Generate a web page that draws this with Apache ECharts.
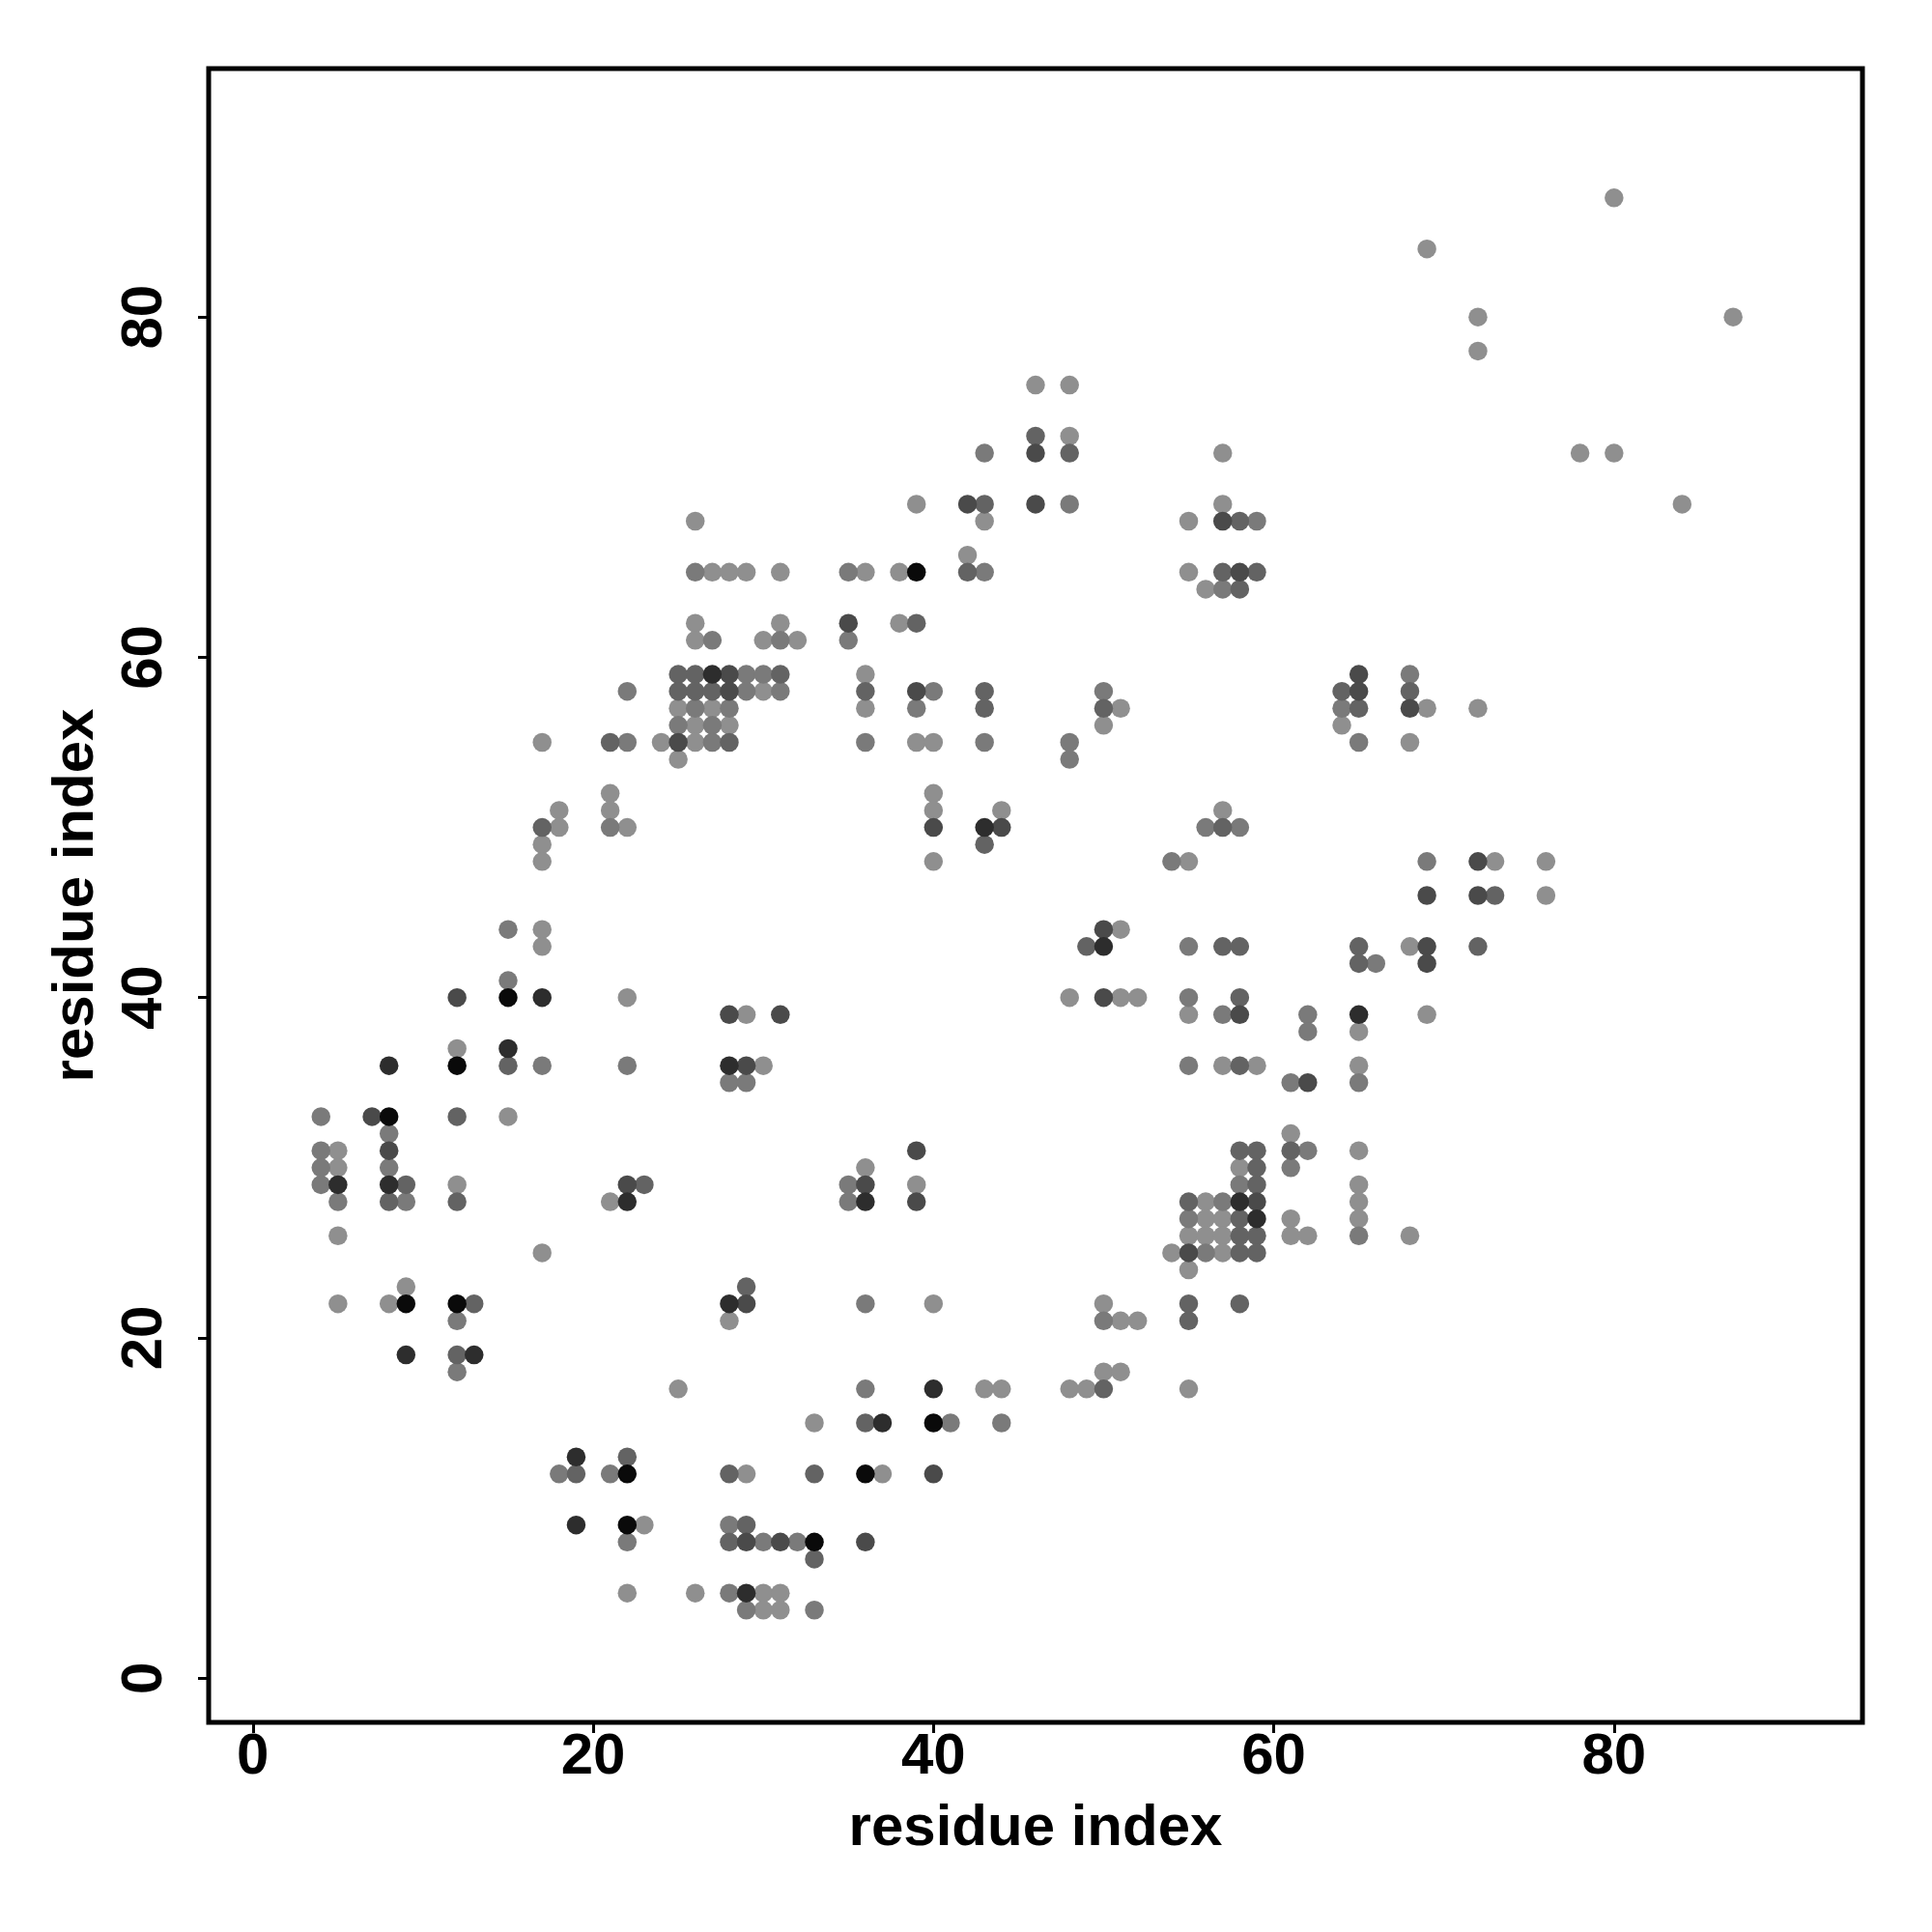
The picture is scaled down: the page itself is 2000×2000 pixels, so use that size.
<!DOCTYPE html>
<html><head><meta charset="utf-8">
<script src="https://cdn.jsdelivr.net/npm/echarts@6/dist/echarts.min.js"></script>
<style>html,body{margin:0;padding:0;background:#fff}#c{width:2000px;height:2000px}</style>
</head><body><div id="c"></div>
<script>
// tick labels
const tickValues = [0, 20, 40, 60, 80];
// grey shades, light -> black
const shadeColors = ['#8f8f8f', '#7a7a7a', '#636363', '#4a4a4a', '#2d2d2d', '#0a0a0a'];

// contact points [residue i, residue j] by shade
const shade1 = [[80,87],[69,84],[72,80],[72,78],[87,80],[78,72],[80,72],[84,69],
 [46,76],[48,76],[48,73],[57,72],[39,69],[57,69],[43,68],[55,68],[42,66],
 [29,65],[31,65],[36,65],[38,65],[55,65],[56,64],[31,62],[38,62],[30,61],[32,61],
 [26,68],[27,65],[28,65],[26,62],[26,61],
 [30,58],[25,57],[27,57],[26,56],[28,56],[17,55],[24,55],[26,55],[25,54],[21,52],[18,51],[21,51],[18,50],[22,50],[17,49],[17,48],[17,44],[17,43],[22,40],[29,39],[12,37],[30,36],[15,33],
 [36,59],[36,57],[51,57],[50,56],[39,55],[40,55],[40,52],[40,51],[44,51],[40,48],[55,48],[57,51],[51,44],[48,40],[51,40],[52,40],[55,39],[57,36],[59,36],
 [69,57],[72,57],[64,56],[68,55],[73,48],[76,48],[76,46],[68,43],[69,39],[65,38],[65,36],[61,32],
 [5,31],[5,30],[12,29],[21,28],[5,26],[17,25],[9,23],[5,22],[8,22],[28,21],[25,17],[29,12],[23,9],[22,5],[26,5],[30,5],[30,4],
 [36,30],[39,29],[56,28],[56,27],[57,27],[55,26],[56,26],[57,26],[54,25],[57,25],[55,24],[40,22],[50,22],[51,21],[52,21],[50,18],[51,18],[43,17],[44,17],[48,17],[49,17],[55,17],[33,15],[37,12],[31,5],[31,4],
 [58,30],[65,31],[65,29],[65,28],[61,27],[65,27],[61,26],[62,26],[68,26]];
const shade2 = [[43,72],[48,69],[57,64],[35,65],[43,65],[31,61],[35,61],[27,61],[26,65],[59,68],
 [29,59],[30,59],[22,58],[29,58],[26,57],[28,57],[25,56],[27,56],[22,55],[27,55],[21,50],[15,44],[15,41],[17,36],[22,36],[28,35],[29,35],[4,33],[8,32],
 [31,58],[40,58],[50,58],[39,57],[36,55],[43,55],[48,55],[48,54],[54,48],[56,50],[58,50],[55,43],[55,40],[57,39],[55,36],
 [68,59],[64,57],[65,55],[69,48],[66,42],[62,39],[62,38],[61,35],[65,35],
 [4,31],[4,30],[8,30],[4,29],[5,28],[9,28],[12,21],[12,18],[18,12],[21,12],[28,9],[22,8],[30,8],[28,5],[29,4],
 [35,29],[58,29],[35,28],[57,28],[55,27],[56,25],[36,22],[50,21],[36,17],[41,15],[44,15],[32,8],[33,4],
 [62,31],[61,30],[65,26]];
const shade3 = [[46,73],[48,72],[43,69],[58,68],[42,65],[57,65],[59,65],[58,64],[39,62],
 [25,59],[26,59],[25,58],[26,58],[27,58],[21,55],[28,55],[17,50],[15,36],[12,33],
 [31,59],[36,58],[43,58],[43,57],[50,57],[43,49],[57,50],[49,43],[57,43],[58,43],[58,40],[58,36],
 [64,58],[68,58],[65,57],[65,43],[72,43],[65,42],[73,46],
 [9,29],[23,29],[8,28],[12,28],[13,22],[29,23],[12,19],[22,13],[19,12],[28,12],[29,9],[28,8],
 [55,28],[58,27],[58,26],[58,25],[55,22],[58,22],[55,21],[50,17],[36,15],[33,12],[33,7],
 [58,31],[59,31],[61,31],[59,30],[59,29],[59,26],[59,25]];
const shade4 = [[46,72],[42,69],[46,69],[57,68],[58,65],[35,62],
 [28,59],[28,58],[25,55],[12,40],[28,39],[31,39],[29,36],[7,33],
 [39,58],[40,50],[44,50],[50,44],[50,40],[58,39],
 [65,59],[65,58],[68,57],[72,48],[69,46],[72,46],[69,43],[69,42],[62,35],
 [8,31],[22,29],[29,22],[29,8],
 [39,31],[36,29],[39,28],[55,25],[40,12],[31,8],[36,8],[59,28]];
const shade5 = [[27,59],[17,40],[15,37],[8,36],[28,36],[43,50],[50,43],[65,39],
 [5,29],[8,29],[22,28],[28,22],[9,19],[13,19],[19,13],[19,9],[29,5],
 [36,28],[40,17],[37,15],[58,28],[59,27]];
const shade6 = [[39,65],[15,40],[12,36],[8,33],[9,22],[12,22],[22,12],[22,9],[40,15],[36,12],[33,8]];

const shades = [shade1, shade2, shade3, shade4, shade5, shade6];
const font = '"Liberation Sans", Arial, Helvetica, sans-serif';
const txt = {fontSize: 60, fontWeight: 'bold', color: '#000', fontFamily: font};

const chart = echarts.init(document.getElementById('c'), null, {renderer: 'canvas'});
chart.setOption({
  animation: false,
  backgroundColor: '#fff',
  grid: {left: 216, top: 71, width: 1712, height: 1712, show: true, borderColor: '#000', borderWidth: 5, backgroundColor: 'transparent'},
  xAxis: {
    type: 'value', min: -2.6, max: 94.6,
    splitLine: {show: false},
    axisLine: {show: false, onZero: false},
    axisTick: {show: true, customValues: tickValues, length: 11, lineStyle: {color: '#000', width: 3}},
    axisLabel: Object.assign({customValues: tickValues, margin: 6}, txt),
    name: 'residue index', nameLocation: 'middle', nameGap: 80,
    nameTextStyle: txt
  },
  yAxis: {
    type: 'value', min: -2.6, max: 94.6,
    splitLine: {show: false},
    axisLine: {show: false, onZero: false},
    axisTick: {show: true, customValues: tickValues, length: 11, lineStyle: {color: '#000', width: 3}},
    axisLabel: Object.assign({customValues: tickValues, margin: 36, rotate: 90, align: 'center', verticalAlign: 'bottom'}, txt),
    name: 'residue index', nameLocation: 'middle', nameGap: 107,
    nameTextStyle: txt
  },
  series: shades.map((pts, i) => ({
    type: 'scatter', data: pts, symbol: 'circle', symbolSize: 19.5,
    itemStyle: {color: shadeColors[i], opacity: 1},
    z: 2 + i, silent: true
  }))
});
</script></body></html>
